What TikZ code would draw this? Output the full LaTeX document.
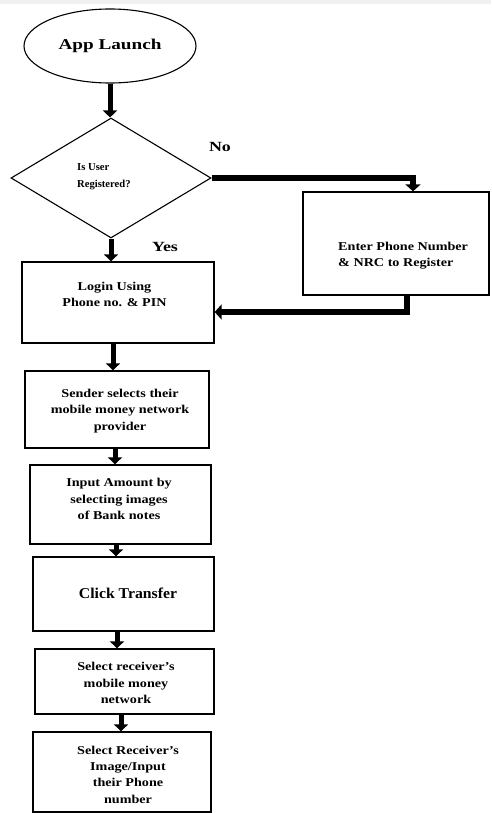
\documentclass[tikz,border=0pt]{standalone}
\usepackage{fontspec}
\setmainfont{Liberation Serif}
\newfontfamily\boxfont[FakeStretch=1.18]{Liberation Serif}
\newfontfamily\bigfont[FakeStretch=1.28]{Liberation Serif}
\newfontfamily\clickfont[FakeStretch=1.05]{Liberation Serif}
\usetikzlibrary{shapes.geometric,arrows.meta}
\begin{document}
\begin{tikzpicture}[x=1pt,y=-1pt,
  box/.style={draw, line width=1.3pt, rectangle, inner sep=0pt},
  txt/.style={inner sep=0pt, align=center, font=\boxfont\bfseries\fontsize{12}{16.3}\selectfont},
  flow/.style={line width=5pt, -{Triangle[width=14pt,length=7pt]}},
  bigflow/.style={line width=6pt, -{Triangle[width=15pt,length=7pt]}}]
\useasboundingbox (0,0) rectangle (491,813);
\fill[black!6] (0,0) rectangle (491,4);
% start
\node[ellipse, draw, line width=1.1pt, minimum width=172pt, minimum height=74pt, inner sep=0pt,
      font=\bigfont\bfseries\fontsize{15}{18}\selectfont] (start) at (110,46) {App Launch};
% decision
\node[diamond, draw, line width=1.1pt, minimum width=200pt, minimum height=120pt, aspect=1.67, inner sep=0pt] (dec) at (111,178) {};
\node[inner sep=0pt, align=left, anchor=west, font=\bfseries\fontsize{10.6}{17}\selectfont] (dectxt) at (77,177) {Is User\\Registered?};
\node[inner sep=0pt, font=\bigfont\bfseries\fontsize{14}{16}\selectfont] (no) at (220,147) {No};
\node[inner sep=0pt, font=\bigfont\bfseries\fontsize{14}{16}\selectfont] (yes) at (165,247) {Yes};
% register
\node[box, minimum width=186pt, minimum height=103pt] (reg) at (396,243.5) {};
\node[txt, align=left, anchor=west] (regtxt) at (338,256) {Enter Phone Number\\\& NRC to Register};
% login
\node[box, minimum width=192pt, minimum height=81pt] (login) at (118,302.5) {};
\node[txt] (logintxt) at (114.5,294.5) {Login Using\\Phone no. \& PIN};
% sender
\node[box, minimum width=184pt, minimum height=77pt] (sender) at (117,409.5) {};
\node[txt] (sendertxt) at (120,411) {Sender selects their\\mobile money network\\provider};
% input
\node[box, minimum width=181pt, minimum height=79pt] (input) at (120.5,504.5) {};
\node[txt] (inputtxt) at (119,499) {Input Amount by\\selecting images\\of Bank notes};
% click
\node[box, minimum width=181pt, minimum height=74pt] (click) at (123.5,594) {};
\node[inner sep=0pt, font=\clickfont\bfseries\fontsize{15}{18}\selectfont] (clicktxt) at (128,593) {Click Transfer};
% select network
\node[box, minimum width=179pt, minimum height=65pt] (selnet) at (124.5,681.5) {};
\node[txt] (selnettxt) at (126,683) {Select receiver’s\\mobile money\\network};
% last
\node[box, minimum width=178pt, minimum height=80pt] (last) at (122,772) {};
\node[txt] (lasttxt) at (128,774.5) {Select Receiver’s\\Image/Input\\their Phone\\number};
% connectors
\draw[flow] (110,0 |- start.south) -- (110,0 |- dec.north);
\draw[flow] (dec.south) -- (dec.south |- login.north);
\draw[bigflow] (dec.east) -- (413,0 |- dec.east) -- (413,0 |- reg.north);
\draw[bigflow] (407,0 |- reg.south) -- (407,312) -- (login.east |- 0,312);
\draw[flow] (113,0 |- login.south) -- (113,0 |- sender.north);
\draw[flow] (115,0 |- sender.south) -- (115,0 |- input.north);
\draw[flow] (116,0 |- input.south) -- (116,0 |- click.north);
\draw[flow] (117,0 |- click.south) -- (117,0 |- selnet.north);
\draw[flow] (121,0 |- selnet.south) -- (121,0 |- last.north);
\end{tikzpicture}
\end{document}
